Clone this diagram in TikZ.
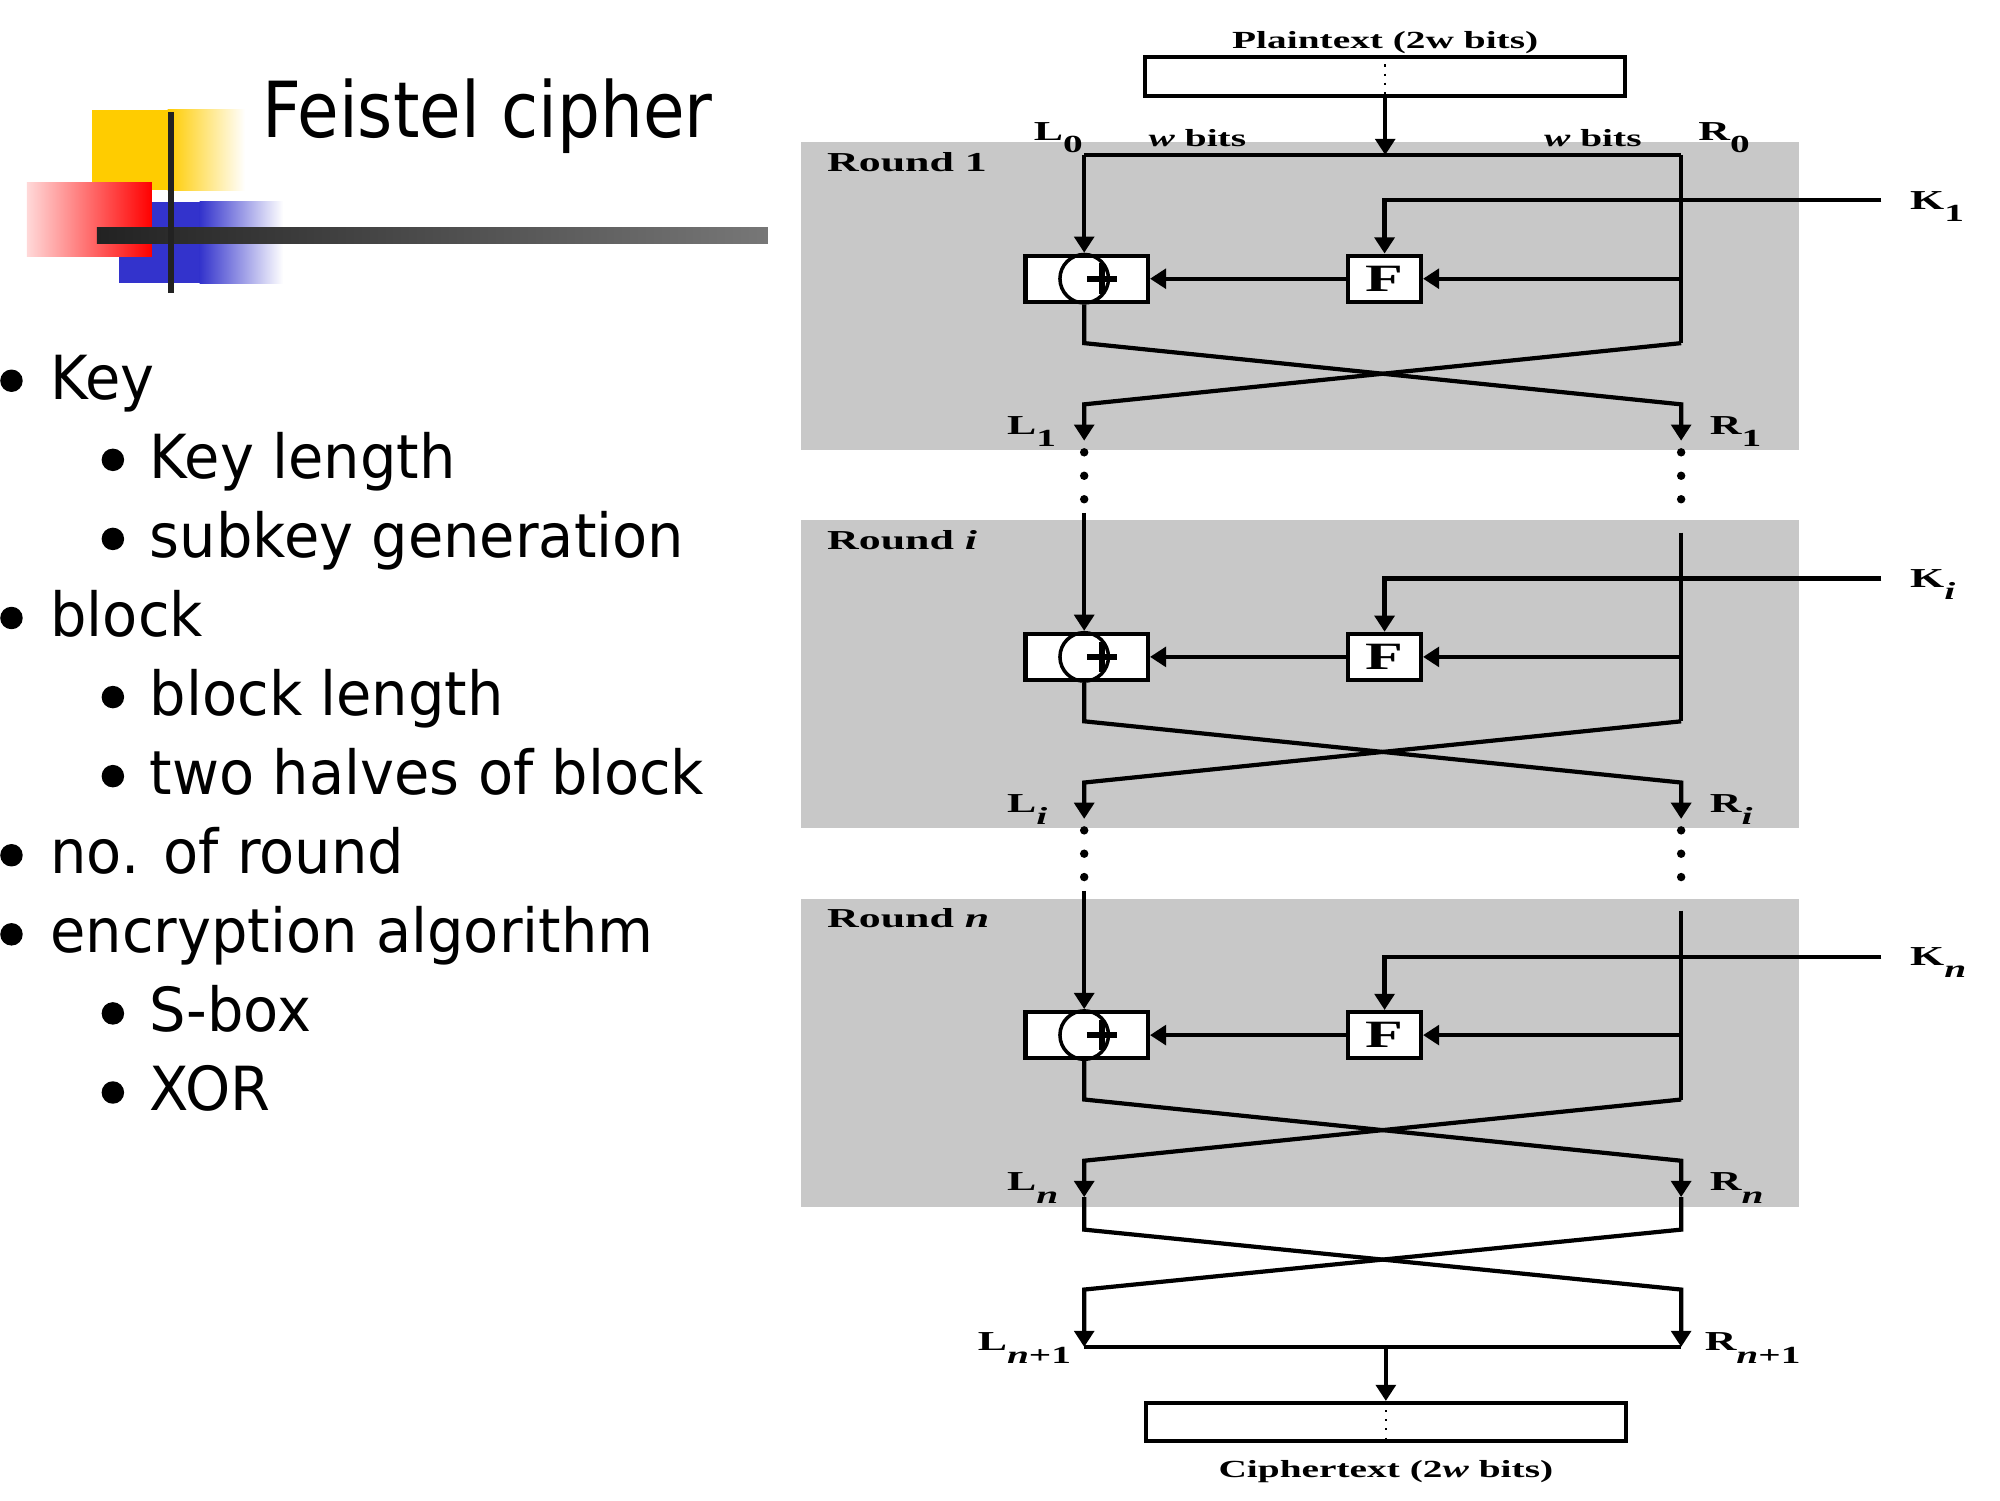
\documentclass[tikz,border=0pt]{standalone}
\usepackage{fontspec}
\usepackage{tikz}
\usetikzlibrary{arrows.meta}
\usetikzlibrary{calc}
\newfontfamily\slidefont{DejaVu Sans}[FakeStretch=0.945]
\newfontfamily\titlefont{DejaVu Sans}[FakeStretch=0.875]
\newfontfamily\diagfont{Liberation Serif}[FakeStretch=1.6]
\definecolor{roundgray}{RGB}{200,200,200}
\definecolor{logoyellow}{RGB}{255,204,0}
\definecolor{logoblue}{RGB}{51,51,204}
\definecolor{logored}{RGB}{255,0,0}
\definecolor{bardark}{RGB}{34,34,34}
\definecolor{barlight}{RGB}{119,119,119}
\newcommand{\sbs}[1]{\raisebox{-3.5pt}{\fontsize{7}{8}\selectfont #1}}
\tikzstyle{wire} = [line width=1.2pt]
\tikzstyle{arrow} = [wire,-{Triangle[length=4.6pt,width=5.6pt]}]
\tikzstyle{lbl} = [inner sep=0pt, anchor=base west, font=\diagfont\bfseries\fontsize{7.8}{9}\selectfont]
\tikzstyle{xorbox} = [draw, wire, fill=white, inner sep=0pt, minimum width=34.8pt, minimum height=13.1pt]
\tikzstyle{fnbox} = [draw, wire, fill=white, inner sep=0pt, minimum width=20.7pt, minimum height=13.1pt, font=\diagfont\bfseries\fontsize{11}{12}\selectfont]
\tikzstyle{iobox} = [draw, wire, fill=white, inner sep=0pt, minimum width=136.5pt, minimum height=10.9pt]
\tikzstyle{levela} = [anchor=base west, inner sep=0pt, font=\slidefont\fontsize{17.3}{20}\selectfont]

\begin{document}
\begin{tikzpicture}[x=0.0127551cm, y=-0.0127551cm]
    \useasboundingbox (0,0) rectangle (1568,1176);

    % logo and title
    \fill[logoyellow] (72,86) rectangle (132,149);
    \shade[left color=logoyellow, right color=white] (131.5,86) rectangle (192,149);
    \fill[logoblue] (93,158) rectangle (157,222);
    \shade[left color=logoblue, right color=white] (156.5,158) rectangle (222,222);
    \shade[left color=red!15, right color=logored] (21,143) rectangle (119,201);
    \shade[left color=bardark, right color=barlight] (76,178) rectangle (602,191);
    \fill[bardark] (131.5,88) rectangle (136.5,230);
    \node[anchor=base west, inner sep=0pt, font=\titlefont\fontsize{22}{26}\selectfont] (title) at (205,108) {Feistel cipher};

    % bullet list
    \node[levela] (key) at (39,313) {Key};
    \node[levela] (keylen) at (117,375) {Key length};
    \node[levela] (subkey) at (117,437) {subkey generation};
    \node[levela] (block) at (39,499) {block};
    \node[levela] (blocklen) at (117,561) {block length};
    \node[levela] (halves) at (117,623) {two halves of block};
    \node[levela] (rounds) at (39,685) {no. of round};
    \node[levela] (algo) at (39,747) {encryption algorithm};
    \node[levela] (sbox) at (117,809) {S-box};
    \node[levela] (xoritem) at (117,871) {XOR};
    \foreach \n in {key,block,rounds,algo}
        \fill ($(\n.base west)+(-30,-14.5)$) circle[radius=3.2pt];
    \foreach \n in {keylen,subkey,blocklen,halves,sbox,xoritem}
        \fill ($(\n.base west)+(-28.5,-14.5)$) circle[radius=3.2pt];

    % rounds
    \foreach \t/\s/\r in {111.5/1/1, 408/i/\textit{i}, 704.5/n/\textit{n}}{
        \fill[roundgray] (628,\t) rectangle (1410,\t+241.5);
        \node[lbl] (round\s) at (648,\t+23) {Round \r};
        \node[xorbox] (xor\s) at (852,\t+107) {};
        \node[circle, draw, line width=1pt, inner sep=0pt, minimum size=13.8pt] (xc\s) at (850,\t+107) {};
        \draw[line width=1.6pt] (852,\t+107) -- (876,\t+107) (864,\t+95) -- (864,\t+119);
        \node[fnbox] (f\s) at (1085.5,\t+107) {F};
        \node[lbl] (k\s) at (1497,\t+52.5) {K\sbs{\r}};
        \coordinate (kend\s) at (1475,\t+45.5);
        \coordinate (rmid\s) at (1318,\t+107);
        \coordinate (lx\s) at (850,\t+157.5);
        \coordinate (rx\s) at (1318,\t+157.5);
        \coordinate (ltip\s) at (850,\t+234);
        \coordinate (rtip\s) at (1318,\t+234);
        \draw[arrow] (kend\s) -| (f\s.north);
        \draw[arrow] (rmid\s) -- (f\s.east);
        \draw[arrow] (f\s.west) -- (xor\s.east);
        \draw[arrow] (xc\s.south) -- (lx\s) -- (1318,\t+205.5) -- (rtip\s);
        \draw[arrow] (rx\s) -- (850,\t+205.5) -- (ltip\s);
        \node[lbl] (l\s) at (789,\t+229) {L\sbs{\r}};
        \node[lbl] (r\s) at (1340,\t+229) {R\sbs{\r}};
    }

    % plaintext in
    \node[lbl, anchor=base, font=\diagfont\bfseries\fontsize{7}{8}\selectfont] (ptext) at (1086,38) {Plaintext (2w bits)};
    \node[iobox] (pbox) at (1086,60) {};
    \draw[dotted, line width=0.6pt] (pbox.north) -- (pbox.south);
    \coordinate (l0) at (850,121.5);
    \coordinate (r0) at (1318,121.5);
    \coordinate (pin) at (1086,121.5);
    \draw[arrow] (pbox.south) -- (pin);
    \draw[wire] (l0) -- (r0);
    \draw[arrow] (l0) -- (xc1.north);
    \draw[wire] (r0) -- (rx1);
    \node[lbl] (l0lbl) at (810,110) {L\sbs{0}};
    \node[lbl, font=\diagfont\bfseries\fontsize{7}{8}\selectfont] (wleft) at (900,115) {\textit{w} bits};
    \node[lbl, font=\diagfont\bfseries\fontsize{7}{8}\selectfont] (wright) at (1210,115) {\textit{w} bits};
    \node[lbl] (r0lbl) at (1331,110) {R\sbs{0}};

    % inputs of round i and round n
    \coordinate (lini) at (850,402);
    \coordinate (rini) at (1318,417.5);
    \coordinate (linn) at (850,698.5);
    \coordinate (rinn) at (1318,714);
    \draw[arrow] (lini) -- (xci.north);
    \draw[wire] (rini) -- (rxi);
    \draw[arrow] (linn) -- (xcn.north);
    \draw[wire] (rinn) -- (rxn);

    % dots between rounds
    \foreach \d in {354.6,373,391.4,651,669.3,687.6}
        \fill (850,\d) circle[radius=1.2pt] (1318,\d) circle[radius=1.2pt];

    % final swap and ciphertext out
    \coordinate (lxo) at (850,964);
    \coordinate (rxo) at (1318,964);
    \coordinate (lout) at (850,1056);
    \coordinate (rout) at (1318,1056);
    \coordinate (cin) at (1086.5,1056);
    \draw[arrow] (ltipn) -- (lxo) -- (1318,1011) -- (rout);
    \draw[arrow] (rtipn) -- (rxo) -- (850,1011) -- (lout);
    \draw[wire] (lout) -- (rout);
    \node[iobox] (cbox) at (1086.5,1115) {};
    \draw[arrow] (cin) -- (cbox.north);
    \draw[dotted, line width=0.6pt] (cbox.north) -- (cbox.south);
    \node[lbl] (lnext) at (766,1059) {L\sbs{\textit{n}+1}};
    \node[lbl] (rnext) at (1336,1059) {R\sbs{\textit{n}+1}};
    \node[lbl, anchor=base, font=\diagfont\bfseries\fontsize{7}{8}\selectfont] (ctext) at (1086.5,1158) {Ciphertext (2\textit{w} bits)};
\end{tikzpicture}
\end{document}
